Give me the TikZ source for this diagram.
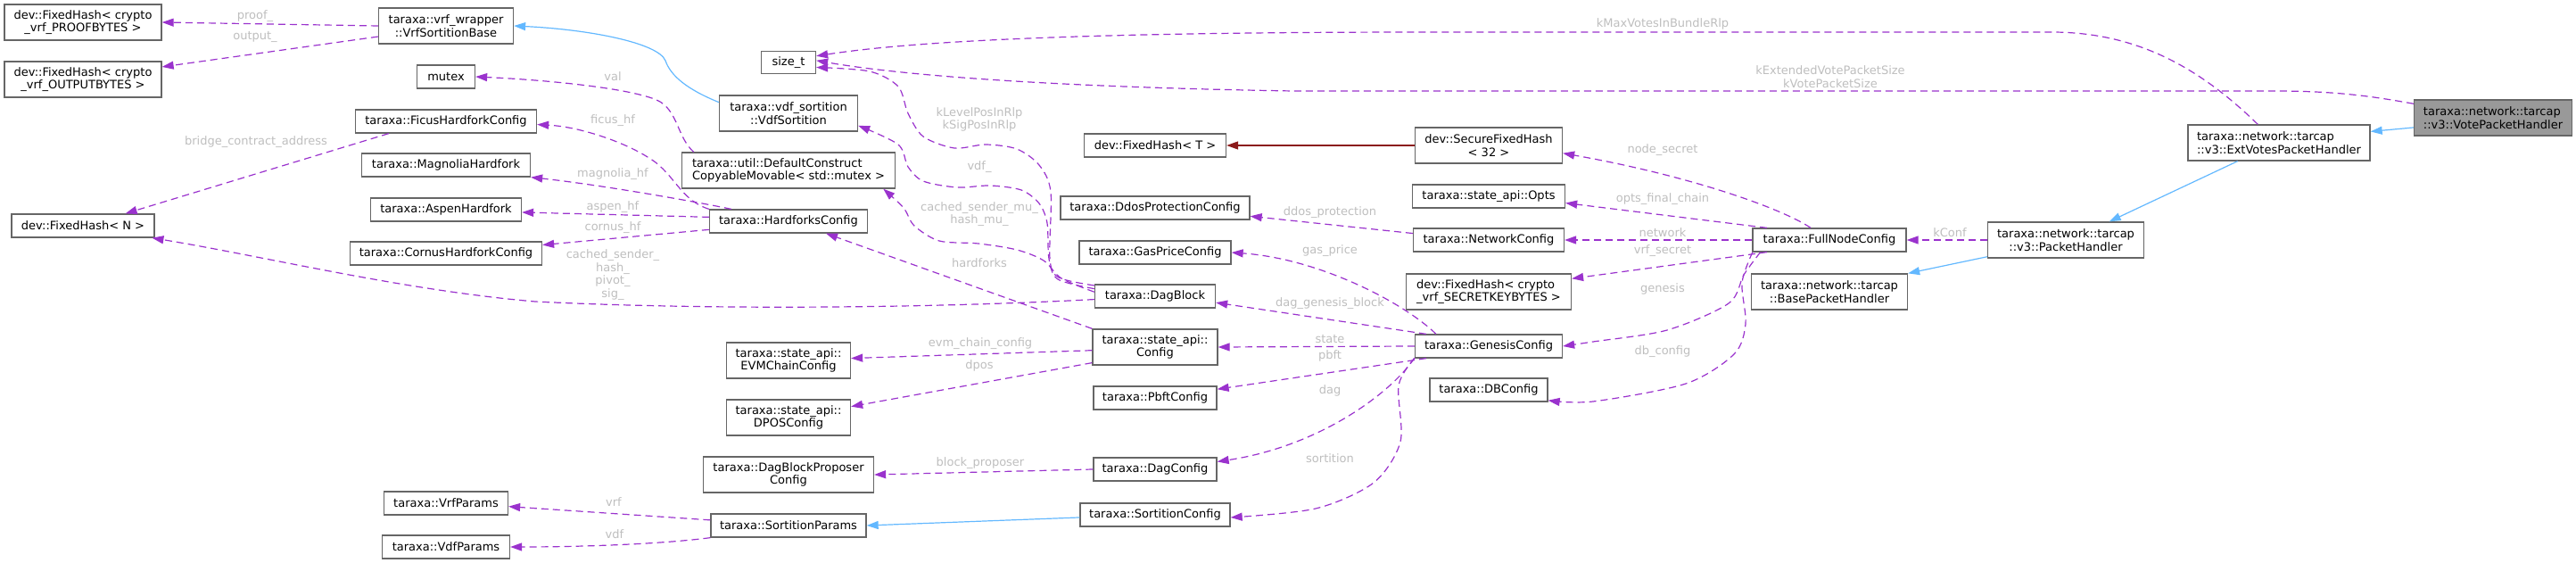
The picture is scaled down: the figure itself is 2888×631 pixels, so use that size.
\documentclass[tikz,border=0pt]{standalone}
\usepackage{fontspec}
\setmainfont{DejaVu Sans}
\usetikzlibrary{arrows.meta}
\definecolor{cUse}{HTML}{9A32CD}
\definecolor{cBase}{HTML}{63B8FF}
\definecolor{cTmpl}{HTML}{8B1A1A}
\definecolor{cFrame}{HTML}{666666}
\definecolor{cFocus}{HTML}{999999}
\definecolor{cLbl}{HTML}{BEBEBE}

\begin{document}
\begin{tikzpicture}[
  x=1pt, y=-1pt,
  font=\fontsize{13}{14.5}\selectfont,
  cls/.style 2 args={draw=cFrame, fill=white, line width=1.3pt, inner sep=0pt,
    minimum width=#1, minimum height=#2, align=center},
  focus/.style={fill=cFocus},
  lbl/.style={text=cLbl, inner sep=0pt, align=center},
  usage/.style={-{Triangle[length=13pt,width=9pt]}, cUse, line width=1.2pt,
    dash pattern=on 8pt off 5pt},
  isa/.style={-{Triangle[length=13pt,width=9pt]}, cBase, line width=1.2pt},
  tmpl/.style={-{Triangle[length=13pt,width=9pt]}, cTmpl, line width=1.2pt},
]
\useasboundingbox (0,0) rectangle (2888,631);

% Hash types on the far left.
\node[cls={176pt}{40pt}] (proofbytes) at (93,25) {dev::FixedHash< crypto\\\_vrf\_PROOFBYTES >};
\node[cls={176pt}{40pt}] (outputbytes) at (93,89) {dev::FixedHash< crypto\\\_vrf\_OUTPUTBYTES >};
\node[cls={160pt}{26pt}] (fixedn) at (93,253) {dev::FixedHash< N >};

% Hardforks and params column.
\node[cls={151pt}{40pt}] (vrfbase) at (500,29) {taraxa::vrf\_wrapper\\::VrfSortitionBase};
\node[cls={65pt}{26pt}] (mutex) at (500,86) {mutex};
\node[cls={203pt}{26pt}] (ficus) at (500,136) {taraxa::FicusHardforkConfig};
\node[cls={189pt}{26pt}] (magnolia) at (500,185) {taraxa::MagnoliaHardfork};
\node[cls={169pt}{26pt}] (aspen) at (500,235) {taraxa::AspenHardfork};
\node[cls={215pt}{26pt}] (cornus) at (500,284) {taraxa::CornusHardforkConfig};
\node[cls={139pt}{26pt}] (vrfparams) at (500,564) {taraxa::VrfParams};
\node[cls={143pt}{26pt}] (vdfparams) at (500,613) {taraxa::VdfParams};

% Config members.
\node[cls={61pt}{25pt}] (sizet) at (884,70) {size\_t};
\node[cls={155pt}{40pt}] (vdfsort) at (884,127) {taraxa::vdf\_sortition\\::VdfSortition};
\node[cls={239pt}{40pt}, align=left] (defmutex) at (884,191)
  {taraxa::util::DefaultConstruct\\CopyableMovable< std::mutex >};
\node[cls={177pt}{26pt}] (hardforks) at (884,248) {taraxa::HardforksConfig};
\node[cls={139pt}{40pt}] (evmchain) at (884,404) {taraxa::state\_api::\\EVMChainConfig};
\node[cls={139pt}{40pt}] (dposconf) at (884,468) {taraxa::state\_api::\\DPOSConfig};
\node[cls={191pt}{40pt}] (proposer) at (884,532) {taraxa::DagBlockProposer\\Config};
\node[cls={174pt}{26pt}] (sortparams) at (884,589) {taraxa::SortitionParams};

% Genesis members.
\node[cls={159pt}{26pt}] (fixedt) at (1295,163) {dev::FixedHash< T >};
\node[cls={212pt}{26pt}] (ddos) at (1295,233) {taraxa::DdosProtectionConfig};
\node[cls={170pt}{26pt}] (gasprice) at (1295,283) {taraxa::GasPriceConfig};
\node[cls={135pt}{26pt}] (dagblock) at (1295,332) {taraxa::DagBlock};
\node[cls={140pt}{40pt}] (stateconf) at (1295,389) {taraxa::state\_api::\\Config};
\node[cls={138pt}{26pt}] (pbftconf) at (1295,446) {taraxa::PbftConfig};
\node[cls={138pt}{26pt}] (dagconf) at (1295,526) {taraxa::DagConfig};
\node[cls={168pt}{26pt}] (sortconf) at (1295,577) {taraxa::SortitionConfig};

% Node config members.
\node[cls={165pt}{40pt}] (securehash) at (1669,163) {dev::SecureFixedHash\\< 32 >};
\node[cls={171pt}{26pt}] (opts) at (1669,220) {taraxa::state\_api::Opts};
\node[cls={169pt}{26pt}] (netconf) at (1669,269) {taraxa::NetworkConfig};
\node[cls={185pt}{40pt}, align=left] (secretkey) at (1669,327)
  {dev::FixedHash< crypto\\\_vrf\_SECRETKEYBYTES >};
\node[cls={165pt}{26pt}] (genesis) at (1669,388) {taraxa::GenesisConfig};
\node[cls={132pt}{26pt}] (dbconf) at (1669,437) {taraxa::DBConfig};

% Handlers.
\node[cls={172pt}{26pt}] (fullnode) at (2051,269) {taraxa::FullNodeConfig};
\node[cls={175pt}{40pt}] (basehandler) at (2051,327) {taraxa::network::tarcap\\::BasePacketHandler};
\node[cls={175pt}{40pt}] (packethandler) at (2316,269) {taraxa::network::tarcap\\::v3::PacketHandler};
\node[cls={204pt}{40pt}, align=left] (extvotes) at (2555,160)
  {taraxa::network::tarcap\\::v3::ExtVotesPacketHandler};
\node[cls={177pt}{40pt}, focus, align=left] (votehandler) at (2795,132)
  {taraxa::network::tarcap\\::v3::VotePacketHandler};

% Base classes.
\draw[isa] (votehandler.187) -- (extvotes.7);
\draw[isa] (extvotes.204) -- (packethandler.23);
\draw[isa] (packethandler.192) -- (basehandler.north east);
\draw[isa] (sortconf.182) -- (sortparams.east);
\draw[isa] (vdfsort.171) .. controls (770,100) and (752,85) .. (746,68)
  .. controls (738,48) and (660,33) .. (vrfbase.east);
\draw[tmpl] (securehash.west) -- (fixedt.east);

% Members, left part.
\draw[usage] (vrfbase.west) -- (proofbytes.east);
\draw[usage] (vrfbase.189) -- (outputbytes.9);
\draw[usage] (defmutex.169) .. controls (760,155) and (760,126) .. (740,114)
  .. controls (715,100) and (620,90) .. (mutex.east);
\draw[usage] (hardforks.north west) .. controls (765,225) and (758,200) .. (735,182)
  .. controls (705,160) and (650,142) .. (ficus.358);
\draw[usage] (hardforks.168) .. controls (790,228) and (680,208) .. (magnolia.south east);
\draw[usage] (hardforks.177) -- (aspen.358);
\draw[usage] (hardforks.186) -- (cornus.5);
\draw[usage] (ficus.192) -- (fixedn.16);
\draw[usage] (dagblock.183) .. controls (1050,345) and (800,348) .. (600,338)
  .. controls (450,325) and (300,288) .. (fixedn.350);
\draw[usage] plot[smooth] coordinates {(dagblock.170) (1187,311) (1177,290) (1178,215)
  (1165,185) (1140,167) (1105,162) (1070,166) (1035,153) (1018,127) (1007,97) (975,80)
  (sizet.350)};
\draw[usage] plot[smooth] coordinates {(dagblock.173) (1186,313) (1176,290) (1174,250)
  (1165,228) (1145,213) (1110,208) (1073,210) (1035,203) (1018,187) (1007,162)
  (vdfsort.350)};
\draw[usage] plot[smooth] coordinates {(dagblock.176) (1190,312) (1170,292) (1140,280)
  (1097,273) (1053,270) (1025,253) (1013,233) (defmutex.349)};
\draw[usage] (stateconf.north west) -- (hardforks.342);
\draw[usage] (stateconf.183) -- (evmchain.2);
\draw[usage] (stateconf.194) -- (dposconf.10);
\draw[usage] (dagconf.west) -- (proposer.east);
\draw[usage] (sortparams.176) -- (vrfparams.357);
\draw[usage] (sortparams.south west) .. controls (740,610) and (650,613) .. (vdfparams.east);

% Members, right part.
\draw[usage] (netconf.175) -- (ddos.355);
\draw[usage] (genesis.167) .. controls (1575,340) and (1480,290) .. (gasprice.east);
\draw[usage] (genesis.169) -- (dagblock.354);
\draw[usage] (genesis.west) -- (stateconf.east);
\draw[usage] (genesis.191) -- (pbftconf.8);
\draw[usage] (genesis.189) .. controls (1560,440) and (1480,500) .. (dagconf.7);
\draw[usage] plot[smooth] coordinates {(genesis.189) (1568,432) (1570,495) (1540,541)
  (1475,570) (sortconf.358)};
\draw[usage] (fullnode.147) .. controls (2000,235) and (1900,198) .. (securehash.354);
\draw[usage] (fullnode.169) -- (opts.355);
\draw[usage] (fullnode.west) -- (netconf.east);
\draw[usage] (fullnode.191) -- (secretkey.9);
\draw[usage] plot[smooth] coordinates {(fullnode.190) (1955,308) (1938,340) (1869,370)
  (1786,383) (genesis.east)};
\draw[usage] plot[smooth] coordinates {(fullnode.189) (1953,317) (1957,363) (1944,397)
  (1890,430) (1786,450) (dbconf.350)};
\draw[usage] (packethandler.west) -- (fullnode.east);
\draw[usage] (extvotes.139) .. controls (2470,80) and (2400,36) .. (2300,36)
  -- (1600,36) .. controls (1300,36) and (1050,42) .. (sizet.13);
\draw[usage] (votehandler.170) .. controls (2660,108) and (2620,102) .. (2550,102)
  -- (1450,102) .. controls (1200,98) and (1020,86) .. (sizet.4);

% Edge labels.
\node[lbl] (lproof) at (286,18) {proof\_};
\node[lbl] (loutput) at (286,41) {output\_};
\node[lbl] (lbridge) at (287,159) {bridge\_contract\_address};
\node[lbl] (lval) at (687,86) {val};
\node[lbl] (lficus) at (687,135) {ficus\_hf};
\node[lbl] (lmagnolia) at (687,195) {magnolia\_hf};
\node[lbl] (laspen) at (687,232) {aspen\_hf};
\node[lbl] (lcornus) at (687,255) {cornus\_hf};
\node[lbl] (lcached) at (687,308) {cached\_sender\_\\hash\_\\pivot\_\\sig\_};
\node[lbl] (lvrf) at (688,563) {vrf};
\node[lbl] (lvdf) at (689,599) {vdf};
\node[lbl] (lrlppos) at (1098,134) {kLevelPosInRlp\\kSigPosInRlp};
\node[lbl] (lvdfsort) at (1098,187) {vdf\_};
\node[lbl] (lmu) at (1098,240) {cached\_sender\_mu\_\\hash\_mu\_};
\node[lbl] (lhardforks) at (1098,295) {hardforks};
\node[lbl] (levm) at (1099,385) {evm\_chain\_config};
\node[lbl] (ldpos) at (1098,410) {dpos};
\node[lbl] (lproposer) at (1099,519) {block\_proposer};
\node[lbl] (lddos) at (1491,238) {ddos\_protection};
\node[lbl] (lgas) at (1491,281) {gas\_price};
\node[lbl] (ldaggen) at (1491,340) {dag\_genesis\_block};
\node[lbl] (lstate) at (1491,380) {state};
\node[lbl] (lpbft) at (1491,399) {pbft};
\node[lbl] (ldag) at (1491,438) {dag};
\node[lbl] (lsortition) at (1491,514) {sortition};
\node[lbl] (lmaxvotes) at (1864,27) {kMaxVotesInBundleRlp};
\node[lbl] (lpacketsize) at (2052,86) {kExtendedVotePacketSize\\kVotePacketSize};
\node[lbl] (lnodesecret) at (1864,168) {node\_secret};
\node[lbl] (lopts) at (1864,223) {opts\_final\_chain};
\node[lbl] (lnetwork) at (1864,261) {network};
\node[lbl] (lvrfsecret) at (1864,281) {vrf\_secret};
\node[lbl] (lgenesis) at (1864,324) {genesis};
\node[lbl] (ldbconf) at (1864,394) {db\_config};
\node[lbl] (lkconf) at (2186,261) {kConf};

\end{tikzpicture}
\end{document}
